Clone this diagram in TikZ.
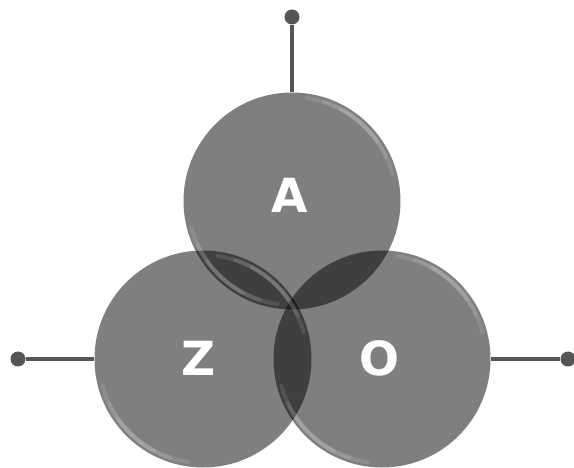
\documentclass[tikz,border=0pt]{standalone}
\usepackage{fontspec}
\newfontfamily\lblfont{DejaVu Sans}
\definecolor{pincol}{HTML}{555555}
\begin{document}
\begin{tikzpicture}[x=1pt,y=-1pt,
  bubble/.style={circle, fill=black, fill opacity=0.5, minimum size=217pt, inner sep=0pt},
  pin/.style={line width=4.2pt, draw=pincol},
  pindot/.style={circle, fill=pincol, minimum size=15pt, inner sep=0pt},
  letter/.style={text=white, font=\lblfont\bfseries\fontsize{47}{47}\selectfont},
  gloss/.style={draw=white, opacity=0.1, line width=4pt, line cap=round}]
\useasboundingbox (0,0) rectangle (574,468);
% circles
\node[bubble] (A) at (292,201) {};
\node[bubble] (Z) at (203,359) {};
\node[bubble] (O) at (382,359) {};
% gloss rims (soft, fading towards the ends)
\foreach \c in {A,Z,O}{
  \foreach \s/\e in {15/82, 25/72, 35/62}{
    \draw[gloss] (\c.center) ++(\s:104pt) arc (\s:\e:104pt);
    \draw[gloss] (\c.center) ++(180+\s:104pt) arc (180+\s:180+\e:104pt);
  }
}
% pins
\node[pindot] (dA) at (292,17) {};
\node[pindot] (dZ) at (18,359) {};
\node[pindot] (dO) at (568,359) {};
\draw[pin] (dA) -- (A);
\draw[pin] (dZ) -- (Z);
\draw[pin] (dO) -- (O);
% labels
\node[letter] (lA) at (290,195) {A};
\node[letter] (lZ) at (199,358) {Z};
\node[letter] (lO) at (379,358) {O};
\end{tikzpicture}
\end{document}
